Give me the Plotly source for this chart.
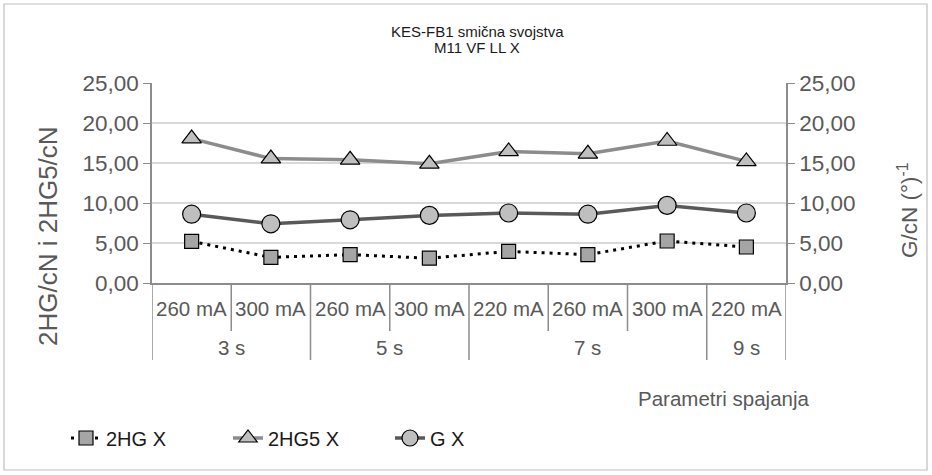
import plotly.graph_objects as go

# ── Data ──────────────────────────────────────────────────────────────────────
current_labels = ["260 mA", "300 mA", "260 mA", "300 mA",
                  "220 mA", "260 mA", "300 mA", "220 mA"]
time_groups = ["3 s", "5 s", "7 s", "9 s"]
group_sizes = [2, 2, 3, 1]

hg_x = [5.20, 3.20, 3.55, 3.10, 3.95, 3.55, 5.25, 4.50]
hg5_x = [18.05, 15.55, 15.40, 14.90, 16.45, 16.15, 17.75, 15.20]
g_x = [8.60, 7.40, 7.90, 8.45, 8.75, 8.60, 9.70, 8.75]

y_ticks = [0, 5, 10, 15, 20, 25]

# ── Geometry helpers (plot area in pixels) ───────────────────────────────────
W, H = 932, 475
L, R, T, B = 152, 786, 83, 283


def px_x(px):
    return (px - L) / (R - L)


def px_y(py):
    return (B - py) / (B - T)


FONT = "Liberation Sans, Arial, sans-serif"
TXT = "#595959"
AXIS = "#8c8c8c"
GRID = "#d9d9d9"

xs = list(range(len(current_labels)))

fig = go.Figure()
fig.add_trace(go.Scatter(
    x=xs, y=hg_x, name="2HG X", mode="lines+markers",
    line=dict(color="#000000", width=3, dash="3px,5px"),
    marker=dict(symbol="square", size=14, color="#a5a5a5",
                line=dict(color="#000000", width=1.2)),
))
fig.add_trace(go.Scatter(
    x=xs, y=hg5_x, name="2HG5 X", mode="lines+markers",
    line=dict(color="#8c8c8c", width=3.5),
    marker=dict(symbol="triangle-up", size=17, color="#bfbfbf",
                line=dict(color="#000000", width=1.2)),
))
fig.add_trace(go.Scatter(
    x=xs, y=g_x, name="G X", mode="lines+markers", yaxis="y2",
    line=dict(color="#595959", width=3.5),
    marker=dict(symbol="circle", size=18, color="#bfbfbf",
                line=dict(color="#000000", width=1.2)),
))

tick_text = [f"{v:.2f}".replace(".", ",") for v in y_ticks]
yax = dict(
    range=[0, 25], tickvals=y_ticks, ticktext=tick_text,
    showgrid=True, gridcolor=GRID, gridwidth=1.5, zeroline=False,
    showline=True, linecolor=AXIS, linewidth=1.5,
    ticks="outside", ticklen=7, tickcolor=AXIS,
    tickfont=dict(family=FONT, size=22.5, color=TXT),
    fixedrange=True, automargin=False,
)


def note(x, y, text, size, color=TXT, xref="paper", **kw):
    return dict(x=x, y=y, xref=xref, yref="paper", text=text, showarrow=False,
                xanchor=kw.pop("xanchor", "center"), yanchor="middle",
                font=dict(family=FONT, size=size, color=color), **kw)


# ── Category table under the axis ────────────────────────────────────────────
shapes = []
annotations = []
short_end = px_y(331)
long_end = px_y(360)

for i, lab in enumerate(current_labels):
    annotations.append(note(i, px_y(308), lab, 20.5, xref="x"))

group_edges = [-0.5]
for n in group_sizes:
    group_edges.append(group_edges[-1] + n)

for k in range(len(current_labels) + 1):
    edge = k - 0.5
    end = long_end if edge in group_edges else short_end
    shapes.append(dict(
        type="line", xref="x", yref="paper", x0=edge, x1=edge,
        y0=0, y1=end, line=dict(color=AXIS, width=1.5),
    ))

for g, lab in enumerate(time_groups):
    mid = (group_edges[g] + group_edges[g + 1]) / 2
    annotations.append(note(mid, px_y(347), lab, 20.5, xref="x"))

# ── Titles ───────────────────────────────────────────────────────────────────
annotations += [
    note(px_x(477), px_y(31), "KES-FB1 smična svojstva", 15, "#1a1a1a"),
    note(px_x(477), px_y(47), "M11 VF LL X", 15, "#1a1a1a"),
    note(px_x(48), px_y(236), "2HG/cN i 2HG5/cN", 26, textangle=-90),
    note(px_x(908), px_y(210), "G/cN (°)<sup>-1</sup>", 22.5, textangle=-90),
    note(px_x(812), px_y(398), "Parametri spajanja", 20.5, xanchor="right"),
]

# outer chart border
shapes.append(dict(type="rect", xref="paper", yref="paper",
                   x0=px_x(4), x1=px_x(927), y0=px_y(470), y1=px_y(4),
                   line=dict(color="#bfbfbf", width=1.2)))

fig.update_layout(
    width=W, height=H,
    margin=dict(l=L, r=W - R, t=T, b=H - B, autoexpand=False),
    plot_bgcolor="white", paper_bgcolor="white",
    xaxis=dict(range=[-0.5, 7.5], showticklabels=False, showgrid=False,
               zeroline=False, showline=True, linecolor=AXIS, linewidth=1.5,
               fixedrange=True, automargin=False),
    yaxis=yax,
    yaxis2=dict(yax, overlaying="y", side="right", showgrid=False),
    showlegend=True,
    legend=dict(orientation="h", x=px_x(66), y=px_y(438),
                xanchor="left", yanchor="middle",
                font=dict(family=FONT, size=20, color="#1a1a1a"),
                entrywidth=117, entrywidthmode="pixels",
                bgcolor="rgba(0,0,0,0)"),
    shapes=shapes,
    annotations=annotations,
)

fig.write_html("out.html", config={"displayModeBar": False},
               post_script="document.body.style.margin='0px';")
